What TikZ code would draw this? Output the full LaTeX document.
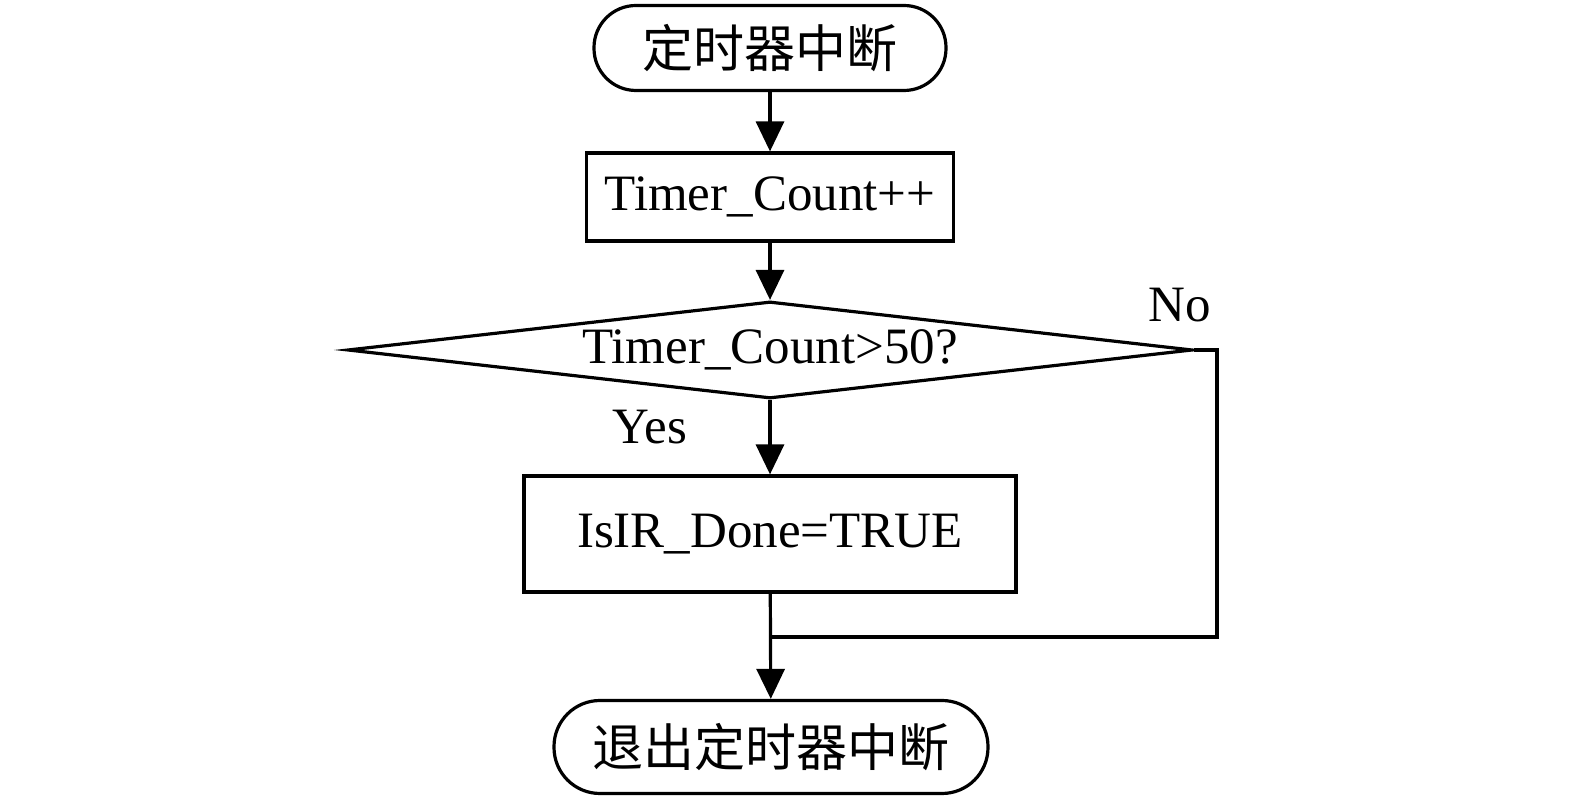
\documentclass[tikz,border=0pt]{standalone}
\usepackage{fontspec}
\setmainfont{Liberation Serif}
\newfontfamily\cjk{Noto Sans CJK SC}
\usetikzlibrary{arrows.meta,shapes.geometric}
\tikzset{
  term/.style={draw, rectangle, rounded corners=21pt, inner sep=0pt},
  proc/.style={draw, rectangle, inner sep=0pt},
  dec/.style={draw, diamond, aspect=8.7, inner sep=0pt},
  lbl/.style={inner sep=0pt}
}
\begin{document}
\begin{tikzpicture}[x=1pt,y=1pt,>={Triangle[length=15pt,width=14pt]}, line width=1.6pt, line join=miter, font=\fontsize{25.5}{30}\selectfont]
				\useasboundingbox (0,0) rectangle (787.5,401.5);
				\node[term, minimum width=176pt, minimum height=42.5pt] (start) at (385,377.5) {\cjk 定时器中断};
				\node[proc, minimum width=183.5pt, minimum height=44pt] (cnt) at (385,303) {Timer\_Count++};
				\node[dec, minimum width=422.5pt, minimum height=48.5pt] (chk) at (385,226.5) {Timer\_Count>50?};
				\node[proc, minimum width=246pt, minimum height=58pt] (done) at (385,134.5) {IsIR\_Done=TRUE};
				\node[term, minimum width=217pt, minimum height=46.5pt, rounded corners=23pt] (stop) at (385.5,28) {\cjk 退出定时器中断};
				\coordinate (nocorner) at (608.5,83);
				\coordinate (join) at (385,83);
				\node[lbl] (yes) at (325,188) {Yes};
				\node[lbl] (no) at (590,249) {No};
				\foreach \p/\q in {start/cnt,cnt/chk,chk/done,done/stop}
				{
					\draw[->] (\p) -- (\q);
				}
				\draw (chk.east) -| (nocorner) -- (join);
			\end{tikzpicture}
\end{document}
